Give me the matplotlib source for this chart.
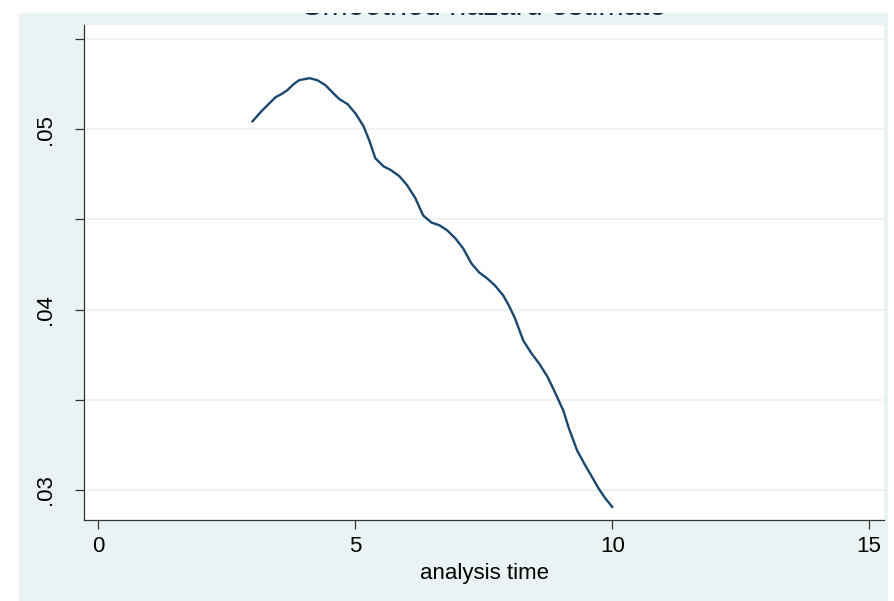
import matplotlib
matplotlib.use("Agg")
import matplotlib.pyplot as plt
from matplotlib.patches import Rectangle

# smoothed hazard
time = [3.00, 3.175, 3.33, 3.45, 3.56, 3.68, 3.80, 3.91, 4.11, 4.26, 4.42,
        4.57, 4.69, 4.85, 5.00, 5.16, 5.27, 5.39, 5.55, 5.70, 5.86, 6.01,
        6.17, 6.32, 6.48, 6.64, 6.79, 6.95, 7.10, 7.26, 7.41, 7.57, 7.72,
        7.88, 7.99, 8.11, 8.27, 8.42, 8.58, 8.74, 8.89, 9.05, 9.16, 9.32,
        9.47, 9.63, 9.74, 9.86, 10.00]
hazard = [.05044, .05100, .05144, .05178, .05194, .05217, .05250, .05272,
          .05283, .05272, .05244, .05200, .05167, .05139, .05089, .05017,
          .04939, .04839, .04794, .04772, .04739, .04689, .04617, .04522,
          .04483, .04467, .04439, .04394, .04339, .04256, .04206, .04172,
          .04133, .04078, .04022, .03950, .03828, .03761, .03700, .03628,
          .03539, .03439, .03339, .03217, .03139, .03061, .03006, .02956,
          .02906]

xticks = [0, 5, 10, 15]
yticks = [.03, .04, .05]
yticklabels = [".03", ".04", ".05"]
yminor = [.035, .045, .055]

BG = "#EAF2F3"
LINE = "#1A476F"
FONT = "Liberation Sans"

W, H = 894, 601
fig = plt.figure(figsize=(W / 100, H / 100), dpi=100, facecolor="white")

# light outer panel behind the plot
panel = Rectangle((19 / W, 0), (888 - 19) / W, 1 - 13 / H,
                  transform=fig.transFigure, facecolor=BG, edgecolor="none",
                  zorder=-5)
fig.patches.append(panel)

ax = fig.add_axes([84 / W, 1 - 520 / H, (884 - 84) / W, (520 - 25) / H])
ax.set_facecolor("white")
ax.plot(time, hazard, color=LINE, lw=1.7, zorder=3)

ax.set_xlim(-0.28, 15.29)
ax.set_ylim(.028333, .055778)
ax.set_xticks(xticks)
ax.set_xticklabels([str(t) for t in xticks], fontsize=16, family=FONT)
ax.set_yticks(yticks)
ax.set_yticklabels(yticklabels, fontsize=16, family=FONT, rotation=90,
                   va="center")
ax.set_yticks(yminor, minor=True)

ax.grid(True, axis="y", which="both", color=BG, lw=1.2, zorder=1)
ax.tick_params(axis="x", length=6.5, width=0.9, pad=5, color="#333333")
ax.tick_params(axis="y", which="both", length=6.5, width=0.9, pad=14,
               color="#333333")

for side in ["top", "right"]:
    ax.spines[side].set_visible(False)
for side in ["left", "bottom"]:
    ax.spines[side].set_color("#333333")
    ax.spines[side].set_linewidth(0.9)

ax.set_xlabel("analysis time", fontsize=16, family=FONT, labelpad=4)

# title sits mostly above the panel, where the reference shows it cut away
fig.text(484 / W, 1 - 15 / H, "Smoothed hazard estimate",
         ha="center", va="baseline", fontsize=22, family=FONT,
         color="#1E2A44", zorder=3)
fig.patches.append(Rectangle((0, 1 - 13 / H), 1, 13 / H,
                             transform=fig.transFigure, facecolor="white",
                             edgecolor="none", zorder=10))

fig.savefig("out.png", dpi=100, facecolor="white")
